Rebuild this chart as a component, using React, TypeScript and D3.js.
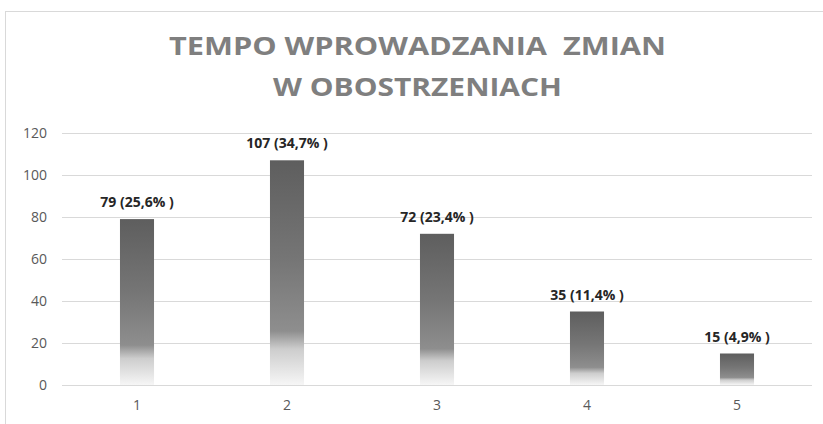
import React from "react";
import * as d3 from "d3";

const categories = ["1", "2", "3", "4", "5"];
const values = [79, 107, 72, 35, 15];
const barLabels = ["79 (25,6% )", "107 (34,7% )", "72 (23,4% )", "35 (11,4% )", "15 (4,9% )"];
const yTicks = [0, 20, 40, 60, 80, 100, 120];
const titleLines = ["TEMPO WPROWADZANIA  ZMIAN", "W OBOSTRZENIACH"];

const W = 823;
const H = 424;
const FONT = "'Open Sans', 'Noto Sans', sans-serif";

export default function App() {
  const x = d3.scaleBand<string>().domain(categories).range([62, 812]).paddingInner(0.773).paddingOuter(0.3865);
  const y = d3.scaleLinear().domain([0, 120]).range([385, 133]);

  return (
    <svg width={W} height={H} style={{ position: "absolute", left: 0, top: 0, background: "#fff" }}>
      <defs>
        <linearGradient id="barGrad" x1="0" y1="0" x2="0" y2="1">
          <stop offset="0" stopColor="#5e5e5e" />
          <stop offset="0.45" stopColor="#767676" />
          <stop offset="0.76" stopColor="#8e8e8e" />
          <stop offset="0.84" stopColor="#cdcdcd" />
          <stop offset="1" stopColor="#f6f6f6" />
        </linearGradient>
      </defs>
      <rect x={5.5} y={11.5} width={W + 10} height={H + 10} fill="#fff" stroke="#d9d9d9" strokeWidth={1} />
      {titleLines.map((t, i) => (
        <text
          key={i}
          x={W / 2 + 6}
          y={i === 0 ? 55 : 96}
          textAnchor="middle"
          fontFamily={FONT}
          fontWeight={700}
          fontSize={24.5}
          fill="#7f7f7f"
          textLength={i === 0 ? 497 : 289}
          lengthAdjust="spacingAndGlyphs"
          style={{ whiteSpace: "pre" }}
        >
          {t}
        </text>
      ))}
      {yTicks.map((t) => (
        <g key={t}>
          <line x1={62} x2={812} y1={Math.round(y(t)) + 0.5} y2={Math.round(y(t)) + 0.5} stroke="#d9d9d9" strokeWidth={1} />
          <text x={47} y={y(t) + 5} textAnchor="end" fontFamily={FONT} fontSize={14} fill="#595959">
            {t}
          </text>
        </g>
      ))}
      {categories.map((c, i) => {
        const bx = x(c)!;
        const bw = x.bandwidth();
        return (
          <g key={c}>
            <rect x={bx} y={y(values[i])} width={bw} height={y(0) - y(values[i])} fill="url(#barGrad)" />
            <text
              x={bx + bw / 2}
              y={y(values[i]) - 12}
              textAnchor="middle"
              fontFamily={FONT}
              fontWeight={700}
              fontSize={14}
              fill="#262626"
            >
              {barLabels[i]}
            </text>
            <text x={bx + bw / 2} y={410} textAnchor="middle" fontFamily={FONT} fontSize={14} fill="#595959">
              {c}
            </text>
          </g>
        );
      })}
    </svg>
  );
}
